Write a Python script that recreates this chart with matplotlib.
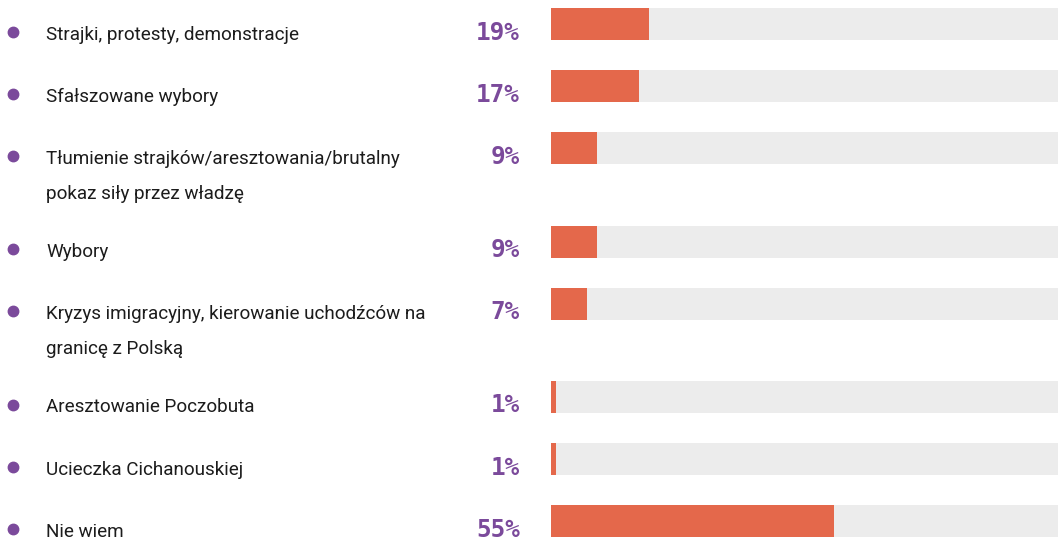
import matplotlib.pyplot as plt
from matplotlib.transforms import blended_transform_factory

# Dane z wykresu
etykiety = [
    "Strajki, protesty, demonstracje",
    "Sfałszowane wybory",
    "Tłumienie strajków/aresztowania/brutalny\npokaz siły przez władzę",
    "Wybory",
    "Kryzys imigracyjny, kierowanie uchodźców na\ngranicę z Polską",
    "Aresztowanie Poczobuta",
    "Ucieczka Cichanouskiej",
    "Nie wiem",
]
procenty = [19, 17, 9, 9, 7, 1, 1, 55]

POMARANCZ = "#e4684b"
SZARY = "#ececec"
FIOLET = "#7b4a9b"
TEKST = "#1c1c1c"

W, H = 1058, 538
fig = plt.figure(figsize=(W / 100, H / 100), dpi=100)
ax = fig.add_axes([551 / W, 0, 1 - 551 / W, 1])
ax.set_xlim(0, 98.4)
ax.set_ylim(H, 0)
ax.axis("off")

# pozycje wierszy - dodatkowe miejsce dla etykiet dwuliniowych
wys_paska = 32
gory = []
y = 8
for e in etykiety:
    gory.append(y)
    y += 62.2 + 31 * e.count("\n")
srodki = [g + wys_paska / 2 for g in gory]

ax.barh(srodki, [100] * len(procenty), height=wys_paska, color=SZARY)
ax.barh(srodki, procenty, height=wys_paska, color=POMARANCZ)

tr = blended_transform_factory(fig.transFigure, ax.transData)
for e, p, g in zip(etykiety, procenty, gory):
    baza = g + wys_paska - 0.5
    ax.plot([13 / W], [baza - 8], marker="o", markersize=7.5, color=FIOLET,
            transform=tr, clip_on=False)
    # kazda linia etykiety osobno, odstep ok. 35 px
    for i, linia in enumerate(e.split("\n")):
        ax.text(46 / W, baza + 35 * i, linia, transform=tr, ha="left",
                va="baseline", fontsize=13.6, color=TEKST,
                family=["Roboto", "DejaVu Sans"])
    ax.text(520 / W, baza, f"{p}%", transform=tr, ha="right", va="baseline",
            fontsize=17.5, color=FIOLET, fontweight="bold",
            family=["DejaVu Sans Mono"])

fig.savefig("out.png", dpi=100)
